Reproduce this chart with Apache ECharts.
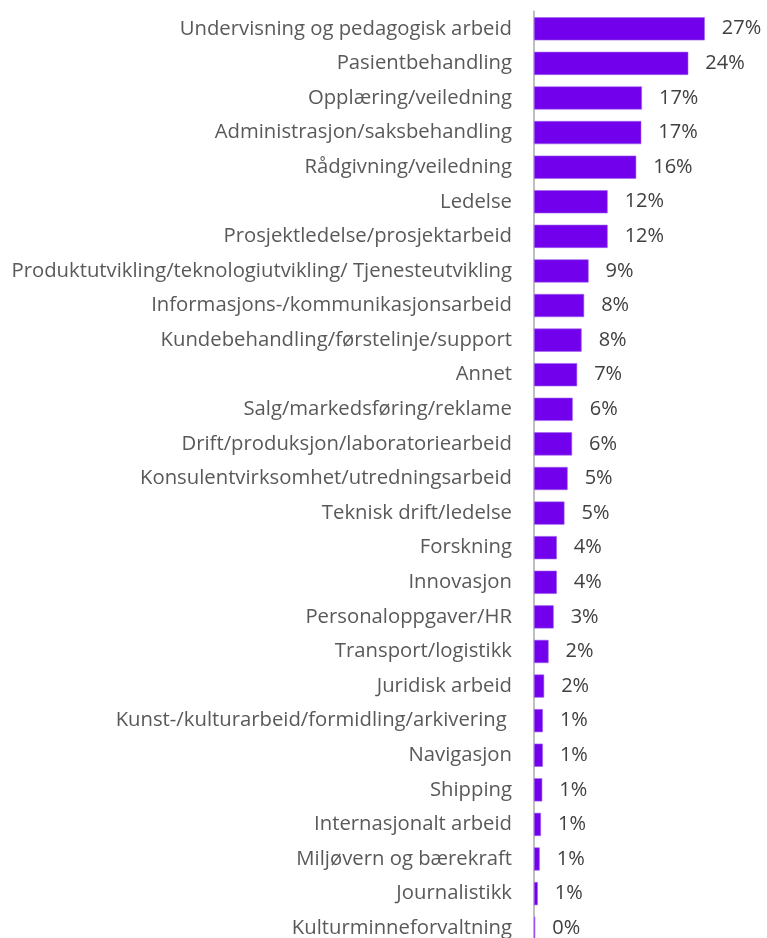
<!DOCTYPE html>
<html><head><meta charset="utf-8">
<script src="https://cdn.jsdelivr.net/npm/echarts@6/dist/echarts.min.js"></script>
<style>html,body{margin:0;padding:0;background:#fff;overflow:hidden;width:767px;height:938px}#c{width:767px;height:960px}</style>
</head><body><div id="c"></div>
<script>
const categories = [
  "Undervisning og pedagogisk arbeid",
  "Pasientbehandling",
  "Opplæring/veiledning",
  "Administrasjon/saksbehandling",
  "Rådgivning/veiledning",
  "Ledelse",
  "Prosjektledelse/prosjektarbeid",
  "Produktutvikling/teknologiutvikling/ Tjenesteutvikling",
  "Informasjons-/kommunikasjonsarbeid",
  "Kundebehandling/førstelinje/support",
  "Annet",
  "Salg/markedsføring/reklame",
  "Drift/produksjon/laboratoriearbeid",
  "Konsulentvirksomhet/utredningsarbeid",
  "Teknisk drift/ledelse",
  "Forskning",
  "Innovasjon",
  "Personaloppgaver/HR",
  "Transport/logistikk",
  "Juridisk arbeid",
  "Kunst-/kulturarbeid/formidling/arkivering ",
  "Navigasjon",
  "Shipping",
  "Internasjonalt arbeid",
  "Miljøvern og bærekraft",
  "Journalistikk",
  "Kulturminneforvaltning"
];
const values = [26.9, 24.3, 17.0, 16.9, 16.1, 11.6, 11.6, 8.6, 7.9, 7.5, 6.8, 6.1, 6.0, 5.3, 4.8, 3.6, 3.6, 3.1, 2.3, 1.6, 1.4, 1.4, 1.3, 1.1, 0.9, 0.6, 0.2];

const chart = echarts.init(document.getElementById('c'));
chart.setOption({
  animation: false,
  grid: { left: 534, right: 4.4, top: 11.5, height: 934, containLabel: false },
  xAxis: { type: 'value', min: 0, max: 36, show: false },
  yAxis: {
    type: 'category', data: categories, inverse: true,
    axisLine: { show: true, lineStyle: { color: '#BFBFBF', width: 2 } },
    axisTick: { show: false },
    axisLabel: { margin: 22, color: '#595959', fontSize: 20.3, fontFamily: 'Open Sans' }
  },
  series: [{
    type: 'bar', data: values, barCategoryGap: '33%',
    itemStyle: { color: '#7300EC', borderColor: '#A066F0', borderWidth: 0.6 },
    label: {
      show: true, position: 'right', distance: 17, color: '#404040', fontSize: 20,
      fontFamily: 'Open Sans',
      formatter: p => Math.round(p.value) + '%'
    }
  }]
});
</script></body></html>
